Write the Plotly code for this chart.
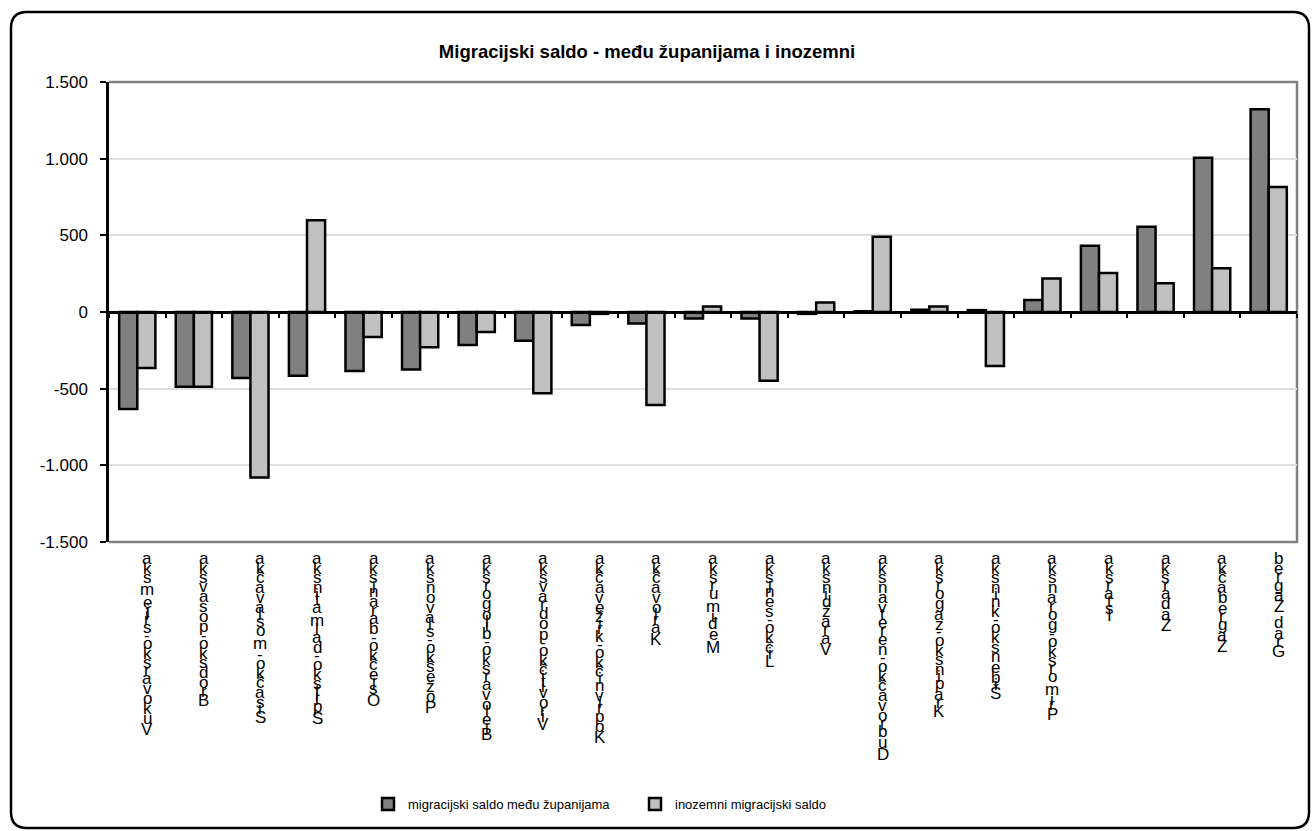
import plotly.graph_objects as go

# ---------------- data ----------------
categories = [
    "Vukovarsko-srijemska", "Brodsko-posavska", "Sisačko-moslavačka",
    "Splitsko-dalmatinska", "Osječko-baranjska", "Požeško-slavonska",
    "Bjelovarsko-bilogorska", "Virovitičko-podravska", "Koprivničko-križevačka",
    "Karlovačka", "Međimurska", "Ličko-senjska", "Varaždinska",
    "Dubrovačko-neretvanska", "Krapinsko-zagorska", "Šibensko-kninska",
    "Primorsko-goranska", "Istarska", "Zadarska", "Zagrebačka", "Grad Zagreb",
]
saldo_medju_zupanijama = [-632, -487, -430, -415, -385, -375, -216, -188, -85, -75,
                          -42, -42, -12, 5, 15, 12, 78, 432, 556, 1006, 1322]
inozemni_saldo = [-365, -487, -1080, 598, -163, -230, -130, -530, -12, -606,
                  36, -449, 62, 490, 36, -352, 218, 254, 188, 286, 816]
series_names = ["migracijski saldo među županijama", "inozemni migracijski saldo"]
y_tick_vals = [-1500, -1000, -500, 0, 500, 1000, 1500]
y_tick_text = ["-1.500", "-1.000", "-500", "0", "500", "1.000", "1.500"]
title_text = "Migracijski saldo - među županijama i inozemni"

# ---------------- styling / layout helpers ----------------
FONT = "Liberation Sans, Arial, sans-serif"
W, H = 1314, 831
ML, MR, MT, MB = 109, 17, 82, 289
PW, PH = W - ML - MR, H - MT - MB

# Arial / Liberation Sans advance widths (1/1000 em)
ADV = {
    'a': 556, 'b': 556, 'c': 500, 'd': 556, 'e': 556, 'f': 278, 'g': 556, 'h': 556,
    'i': 222, 'j': 222, 'k': 500, 'l': 222, 'm': 833, 'n': 556, 'o': 556, 'p': 556,
    'q': 556, 'r': 333, 's': 500, 't': 278, 'u': 556, 'v': 500, 'w': 722, 'x': 500,
    'y': 500, 'z': 500, 'A': 667, 'B': 667, 'C': 722, 'D': 722, 'E': 667, 'F': 611,
    'G': 778, 'H': 722, 'I': 278, 'J': 500, 'K': 667, 'L': 556, 'M': 833, 'N': 722,
    'O': 778, 'P': 667, 'R': 722, 'S': 667, 'T': 611, 'U': 722, 'V': 667, 'Z': 611,
    '-': 333, ' ': 278, 'č': 500, 'ć': 500, 'đ': 556, 'ž': 500, 'š': 500,
    'Š': 667, 'Ž': 611,
}
PX_PER_EM = 18.7
LABEL_TOP = 11

fig = go.Figure()
fig.add_trace(go.Bar(
    x=categories, y=saldo_medju_zupanijama, name=series_names[0],
    marker=dict(color="#808080", line=dict(color="black", width=2.5)),
))
fig.add_trace(go.Bar(
    x=categories, y=inozemni_saldo, name=series_names[1],
    marker=dict(color="#C0C0C0", line=dict(color="black", width=2.5)),
))

# Category labels: upright glyphs stacked along a bottom-to-top text run
annotations = []
for name in categories:
    cum = 0.0
    for ch in reversed(name):
        w = ADV.get(ch, 556) / 1000.0
        if ch != ' ':
            annotations.append(dict(
                x=name, xref="x", y=0, yref="paper",
                yshift=-(LABEL_TOP + (cum + w / 2) * PX_PER_EM), xshift=10,
                text=ch, showarrow=False, xanchor="center", yanchor="middle",
                font=dict(family=FONT, size=17, color="black"),
            ))
        cum += w


def px_x(p):
    return (p - ML) / PW


def px_y(p):
    return (MT + PH - p) / PH


# outer rounded border
L_, T_, R_, B_, r = 11, 12, 1309, 828, 16
path = (
    f"M {px_x(L_ + r)},{px_y(T_)} L {px_x(R_ - r)},{px_y(T_)} "
    f"Q {px_x(R_)},{px_y(T_)} {px_x(R_)},{px_y(T_ + r)} "
    f"L {px_x(R_)},{px_y(B_ - r)} Q {px_x(R_)},{px_y(B_)} {px_x(R_ - r)},{px_y(B_)} "
    f"L {px_x(L_ + r)},{px_y(B_)} Q {px_x(L_)},{px_y(B_)} {px_x(L_)},{px_y(B_ - r)} "
    f"L {px_x(L_)},{px_y(T_ + r)} Q {px_x(L_)},{px_y(T_)} {px_x(L_ + r)},{px_y(T_)} Z"
)
shapes = [
    dict(type="path", xref="paper", yref="paper", path=path,
         line=dict(color="black", width=2.5), layer="above"),
    dict(type="path", xref="paper", yref="paper", path="M 0,1 L 1,1 L 1,0 L 0,0",
         line=dict(color="#808080", width=2.5), layer="below"),
]

fig.update_layout(
    width=W, height=H,
    margin=dict(l=ML, r=MR, t=MT, b=MB),
    paper_bgcolor="white", plot_bgcolor="white",
    font=dict(family=FONT, color="black"),
    title=dict(text="<b>" + title_text + "</b>", x=647 / W, xanchor="center",
               xref="container", y=1 - 52 / H, yanchor="middle", yref="container",
               font=dict(family=FONT, size=18.5, color="black")),
    barmode="group", bargap=0.36, bargroupgap=0.0,
    xaxis=dict(type="category", showgrid=False, anchor="free", position=0.5,
               showline=True, linecolor="black", linewidth=3,
               ticks="outside", tickson="boundaries", ticklen=4, tickwidth=2,
               tickcolor="black", showticklabels=False, zeroline=False),
    yaxis=dict(range=[-1500, 1500], tickvals=y_tick_vals, ticktext=y_tick_text,
               showgrid=True, gridcolor="#DEDEDE", gridwidth=2, zeroline=False,
               showline=True, linecolor="black", linewidth=2.5,
               ticks="outside", ticklen=6, tickwidth=2, tickcolor="black",
               tickfont=dict(family=FONT, size=17, color="black"),
               ticklabelstandoff=9),
    legend=dict(orientation="h", x=px_x(368), xanchor="left", y=px_y(804),
                yanchor="middle", font=dict(family=FONT, size=13, color="black"),
                entrywidth=222, entrywidthmode="pixels", itemwidth=30,
                bgcolor="rgba(0,0,0,0)"),
    showlegend=True,
    annotations=annotations,
    shapes=shapes,
)

fig.write_html(
    "out.html",
    config={"displayModeBar": False},
    post_script="document.body.style.margin='0';document.body.style.overflow='hidden';",
)
